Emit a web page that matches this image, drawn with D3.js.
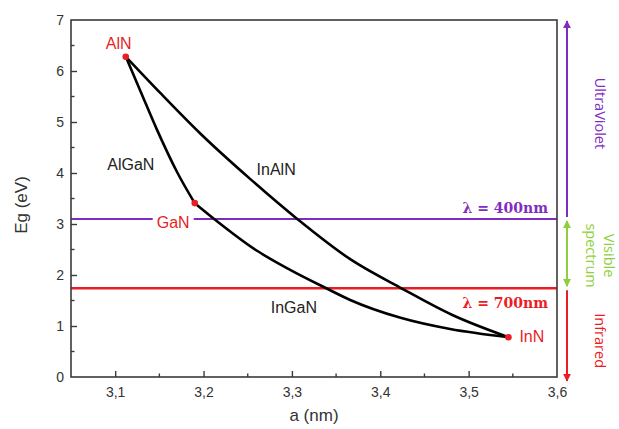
<!DOCTYPE html>
<html>
<head>
<meta charset="utf-8">
<script src="https://cdn.jsdelivr.net/npm/d3@7"></script>
<style>
  html, body { margin: 0; padding: 0; background: #fff; }
  svg { display: block; }
</style>
</head>
<body>
<svg id="chart" width="619" height="429" font-family="'Liberation Sans', Arial, sans-serif"></svg>
<script>
// ---------- data ----------
const materials = ["AlN", "GaN", "InN"];
const latticeA  = [3.112, 3.190, 3.545];
const bandgapEg = [6.28, 3.41, 0.78];

// ternary alloy curves
const inAlN_a  = [3.112, 3.151, 3.196, 3.253, 3.306, 3.366, 3.425, 3.481, 3.545];
const inAlN_eg = [6.28, 5.57, 4.78, 3.88, 3.10, 2.31, 1.73, 1.22, 0.78];
const alGaN_a  = [3.112, 3.129, 3.147, 3.170, 3.190];
const alGaN_eg = [6.28, 5.59, 4.86, 4.02, 3.41];
const inGaN_a  = [3.190, 3.212, 3.261, 3.298, 3.340, 3.366, 3.423, 3.479, 3.545];
const inGaN_eg = [3.41, 3.10, 2.47, 2.10, 1.73, 1.51, 1.16, 0.94, 0.78];

const alloyNames = ["AlGaN", "InAlN", "InGaN"];
const alloyLabelA  = [3.091, 3.260, 3.276];
const alloyLabelEg = [4.06, 3.97, 1.25];

// wavelength limits
const wavelengthLabels = ["\u03BB = 400nm", "\u03BB = 700nm"];
const wavelengthEg = [3.10, 1.74];

// spectrum bands
const bandNames = [["UltraViolet"], ["Visible", "spectrum"], ["Infrared"]];
const bandTop    = [7.0, 3.10, 1.74];
const bandBottom = [3.10, 1.74, 0.0];

// axes
const xTicks = [3.1, 3.2, 3.3, 3.4, 3.5, 3.6];
const xTickLabels = ["3,1", "3,2", "3,3", "3,4", "3,5", "3,6"];
const xMinor = [3.15, 3.25, 3.35, 3.45, 3.55];
const yTicks = [0, 1, 2, 3, 4, 5, 6, 7];
const yTickLabels = ["0", "1", "2", "3", "4", "5", "6", "7"];
const yMinor = [0.5, 1.5, 2.5, 3.5, 4.5, 5.5, 6.5];
const xTitle = "a (nm)";
const yTitle = "Eg (eV)";

// ---------- styles ----------
const RED = "#ea1d25", PURPLE = "#7f2dc0", GREEN = "#8fcf3c", AXIS = "#3a3a3a";
const SANS = "'Liberation Sans', Arial, sans-serif";

const svg = d3.select("#chart");
const L = 71, R = 557, T = 20, B = 377;
const x = d3.scaleLinear().domain([3.05, 3.6]).range([L, R]);
const y = d3.scaleLinear().domain([0, 7]).range([B, T]);

svg.append("rect").attr("width", 619).attr("height", 429).attr("fill", "#fff");

// defs: arrow markers
const defs = svg.append("defs");
function marker(id, color) {
  defs.append("marker").attr("id", id)
    .attr("viewBox", "0 0 10 10").attr("refX", 9).attr("refY", 5)
    .attr("markerWidth", 4).attr("markerHeight", 4)
    .attr("markerUnits", "strokeWidth")
    .attr("orient", "auto-start-reverse")
    .append("path").attr("d", "M0,0 L10,5 L0,10 z").attr("fill", color);
}
marker("arrP", PURPLE); marker("arrG", GREEN); marker("arrR", RED);

// horizontal wavelength lines
const hColors = [PURPLE, RED];
svg.selectAll(".hline").data(wavelengthEg).enter().append("line")
  .attr("x1", L).attr("x2", R)
  .attr("y1", d => y(d)).attr("y2", d => y(d))
  .attr("stroke", (d, i) => hColors[i]).attr("stroke-width", (d, i) => i ? 2.4 : 2);

// curves
const line = d3.line().x(d => x(d[0])).y(d => y(d[1])).curve(d3.curveMonotoneX);
const curves = [
  d3.zip(alGaN_a, alGaN_eg),
  d3.zip(inAlN_a, inAlN_eg),
  d3.zip(inGaN_a, inGaN_eg)
];
svg.selectAll(".curve").data(curves).enter().append("path")
  .attr("d", line).attr("fill", "none")
  .attr("stroke", "#000").attr("stroke-width", 2.6);

// axes
const xAxis = d3.axisBottom(x).tickValues(xTicks)
  .tickFormat((d, i) => xTickLabels[i]).tickSizeInner(-6).tickSizeOuter(0).tickPadding(10);
const gx = svg.append("g").attr("transform", `translate(0,${B})`).call(xAxis);
const yAxis = d3.axisLeft(y).tickValues(yTicks)
  .tickFormat((d, i) => yTickLabels[i]).tickSizeInner(-6).tickSizeOuter(0).tickPadding(7);
const gy = svg.append("g").attr("transform", `translate(${L},0)`).call(yAxis);
[gx, gy].forEach(g => {
  g.attr("font-family", SANS).attr("font-size", 14);
  g.select(".domain").remove();
  g.selectAll("line").attr("stroke", AXIS).attr("stroke-width", 1.4);
  g.selectAll("text").attr("fill", "#333");
});
gy.selectAll(".tick").filter(d => d === 0 || d === 7).select("line").remove();
gx.selectAll(".tick").filter(d => d === 3.6).select("line").remove();

// minor ticks
svg.append("g").selectAll("line").data(xMinor).enter().append("line")
  .attr("x1", d => x(d)).attr("x2", d => x(d)).attr("y1", B).attr("y2", B - 3.5)
  .attr("stroke", AXIS).attr("stroke-width", 1.4);
svg.append("g").selectAll("line").data(yMinor).enter().append("line")
  .attr("x1", L).attr("x2", L + 3.5).attr("y1", d => y(d)).attr("y2", d => y(d))
  .attr("stroke", AXIS).attr("stroke-width", 1.4);

// frame
svg.append("rect").attr("x", L).attr("y", T).attr("width", R - L).attr("height", B - T)
  .attr("fill", "none").attr("stroke", AXIS).attr("stroke-width", 1.6);

// axis titles
svg.append("text").attr("x", (L + R) / 2).attr("y", 421).attr("text-anchor", "middle")
  .attr("font-size", 17).attr("fill", "#333").text(xTitle);
svg.append("text").attr("transform", `translate(27,${205}) rotate(-90)`)
  .attr("text-anchor", "middle").attr("font-size", 17).attr("fill", "#333").text(yTitle);

// wavelength labels
svg.selectAll(".wl").data(wavelengthLabels).enter().append("text")
  .attr("x", R - 9).attr("y", (d, i) => i ? y(wavelengthEg[i]) + 20 : y(wavelengthEg[i]) - 6)
  .attr("text-anchor", "end")
  .attr("font-family", "'DejaVu Serif', serif").attr("font-weight", "bold")
  .attr("font-size", 14).attr("fill", (d, i) => hColors[i]).text(d => d);

// alloy labels
svg.selectAll(".alloy").data(alloyNames).enter().append("text")
  .attr("x", (d, i) => x(alloyLabelA[i])).attr("y", (d, i) => y(alloyLabelEg[i]))
  .attr("font-size", 16).attr("fill", "#222").text(d => d);

// binary points
const ptLabelDx = [-20, -38, 11];
const ptLabelDy = [-8, 25, 5];
materials.forEach((m, i) => {
  if (m === "GaN") {
    svg.append("rect").attr("x", x(latticeA[i]) - 42).attr("y", y(bandgapEg[i]) + 10)
      .attr("width", 41).attr("height", 16).attr("fill", "#fff");
  }
});
svg.selectAll(".pt").data(materials).enter().append("circle")
  .attr("cx", (d, i) => x(latticeA[i])).attr("cy", (d, i) => y(bandgapEg[i]))
  .attr("r", 3.3).attr("fill", RED);
svg.selectAll(".ptl").data(materials).enter().append("text")
  .attr("x", (d, i) => x(latticeA[i]) + ptLabelDx[i])
  .attr("y", (d, i) => y(bandgapEg[i]) + ptLabelDy[i])
  .attr("font-size", 16).attr("fill", RED).text(d => d);

// spectrum arrows on the right
const AX = 567;
const bandColors = [PURPLE, GREEN, RED];
const bandLabelShift = [-6, 2, 8];
bandNames.forEach((names, i) => {
  const yt = y(bandTop[i]) + (i === 0 ? 1 : 2);
  const yb = y(bandBottom[i]) - (i === 2 ? -4 : 2);
  let y1, y2;
  if (i === 0) { y1 = yb; y2 = yt; } else { y1 = yt; y2 = yb; }
  const ln = svg.append("line").attr("x1", AX).attr("x2", AX).attr("y1", y1).attr("y2", y2)
    .attr("stroke", bandColors[i]).attr("stroke-width", 2);
  if (i === 0) ln.attr("marker-end", "url(#arrP)");
  if (i === 1) ln.attr("marker-start", "url(#arrG)").attr("marker-end", "url(#arrG)");
  if (i === 2) ln.attr("marker-end", "url(#arrR)");
  const cy = (y(bandTop[i]) + y(bandBottom[i])) / 2 + bandLabelShift[i];
  const n = names.length;
  names.forEach((t, j) => {
    const tx = n === 1 ? 600 : (j === 0 ? 609 : 591);
    svg.append("text").attr("transform", `translate(${tx},${cy}) rotate(90)`)
      .attr("text-anchor", "middle").attr("dy", "0.35em")
      .attr("font-family", "'Open Sans', 'Liberation Sans', sans-serif")
      .attr("font-size", 14.5).attr("fill", bandColors[i]).text(t);
  });
});
</script>
</body>
</html>
